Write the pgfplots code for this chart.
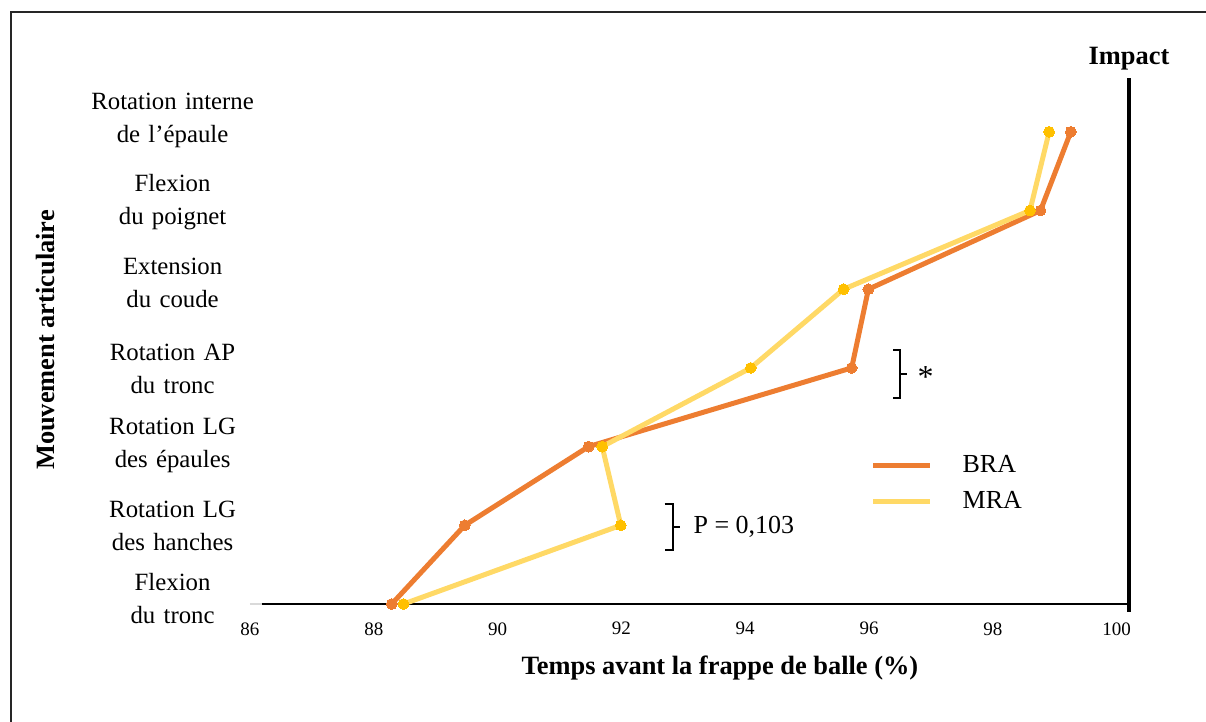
\documentclass[border=0pt]{standalone}
\usepackage{fontspec}
\setmainfont{Liberation Serif}
\usepackage{pgfplots}
\pgfplotsset{compat=1.18}
\definecolor{bra}{HTML}{ED7D31}
\definecolor{mraline}{HTML}{FFD966}
\definecolor{mramark}{HTML}{FFC000}
\begin{document}
\begin{tikzpicture}
\begin{axis}[name=ax, scale only axis, width=439.5pt, height=263pt,
  xmin=86, xmax=100.2, ymin=0, ymax=6.684, clip=false,
  axis line style={draw=none}, major tick length=0pt,
  xtick={86,88,...,100},
  /pgf/number format/assume math mode=true,
  xticklabel style={font=\fontsize{9.5}{11}\selectfont, inner sep=0pt, yshift=-9pt},
  ytick={0.064,0.99,2.01,2.99,4.08,5.11,6.14},
  yticklabels={{Flexion\\du tronc},{Rotation LG\\des hanches},{Rotation LG\\des épaules},{Rotation AP\\du tronc},{Extension\\du coude},{Flexion\\du poignet},{Rotation interne\\de l’épaule}},
  yticklabel style={font=\fontsize{12.4}{16.5}\selectfont, align=center, text width=92pt, inner sep=0pt, xshift=7.5pt},
  xlabel={Temps avant la frappe de balle (\%)},
  xlabel style={at={(rel axis cs:0.5347,-0.1225)}, anchor=center, font=\fontsize{13.2}{15}\selectfont\bfseries},
  ylabel={Mouvement articulaire},
  ylabel style={at={(rel axis cs:-0.2332,0.502)}, anchor=center, font=\fontsize{13.2}{15}\selectfont\bfseries},
  legend image code/.code={\draw[#1] (0pt,0pt) -- (28.5pt,0pt);},
  legend style={at={(axis cs:96.02,1.944)}, anchor=north west, draw=none, fill=none, inner sep=0pt,
    font=\fontsize{13}{15}\selectfont, row sep=4pt, cells={anchor=west},
    /tikz/every odd column/.append style={column sep=13pt}},
]
\draw[gray!30, line width=1pt] (axis cs:86,0) -- (axis cs:86.19,0);
\draw[black, line width=1pt] (axis cs:86.19,0) -- (axis cs:100.2,0);
\draw[black, line width=2pt] (axis cs:100.2,-0.1) -- (axis cs:100.2,6.684);
\node[font=\fontsize{13.2}{15}\selectfont\bfseries] at (rel axis cs:1,1.036) {Impact};
\addplot[bra, line width=2.5pt, line join=round, mark=*, mark size=2.7pt, mark options={fill=bra, draw=bra, line width=0pt}]
  coordinates {(88.29,0)(89.47,1)(91.47,2)(95.72,3)(95.99,4)(98.77,5)(99.26,6)};
\addplot[mraline, line width=2.5pt, line join=round, mark=*, mark size=2.7pt, mark options={fill=mramark, draw=mramark, line width=0pt}]
  coordinates {(88.48,0)(91.99,1)(91.69,2)(94.09,3)(95.59,4)(98.60,5)(98.91,6)};
\legend{BRA, MRA}
% brackets
\draw[black, line width=0.8pt] (axis cs:92.70,1.271) -- (axis cs:92.83,1.271) -- (axis cs:92.83,0.686) -- (axis cs:92.70,0.686);
\draw[black, line width=0.8pt] (axis cs:92.83,0.978) -- (axis cs:92.95,0.978);
\node[anchor=west, inner sep=0pt, font=\fontsize{13}{15}\selectfont] at (axis cs:93.16,0.978) {P = 0,103};
\draw[black, line width=0.8pt] (axis cs:96.39,3.227) -- (axis cs:96.50,3.227) -- (axis cs:96.50,2.618) -- (axis cs:96.39,2.618);
\draw[black, line width=0.8pt] (axis cs:96.50,2.922) -- (axis cs:96.61,2.922);
\node[anchor=west, inner sep=0pt, font=\fontsize{16}{18}\selectfont] at (axis cs:96.78,2.88) {*};
\end{axis}
\path[use as bounding box] ([shift={(-125pt,-59pt)}]ax.south west) rectangle ++(603pt,361pt);
\draw[line width=0.8pt, black!85] ([shift={(-119.5pt,-59pt)}]ax.south west) -- ++(0,355pt) -- ++(597.5pt,0);
\end{tikzpicture}
\end{document}
